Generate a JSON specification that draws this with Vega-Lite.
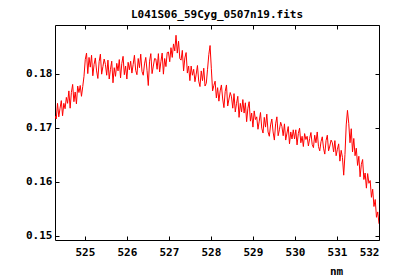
{
 "$schema": "https://vega.github.io/schema/vega-lite/v6.json",
 "width": 324, "height": 215,
 "autosize": "none",
 "padding": {"left": 55, "top": 25, "right": 21, "bottom": 40},
 "background": "white",
 "title": {"text": "L041S06_59Cyg_0507n19.fits", "font": "DejaVu Sans Mono", "fontSize": 11, "fontWeight": "bold", "color": "black", "offset": 5, "anchor": "middle"},
 "config": {
  "view": {"stroke": "black", "strokeWidth": 1},
  "axis": {"domain": false, "grid": false, "tickColor": "black", "tickSize": -4, "labelFont": "DejaVu Sans Mono", "labelFontSize": 11, "labelFontWeight": "bold", "labelColor": "black", "titleFont": "DejaVu Sans Mono", "titleFontSize": 11, "titleFontWeight": "bold", "titleColor": "black"}
 },
 "data": {"values": [
  {"nm":524.29,"f":0.1722},{"nm":524.32,"f":0.1716},{"nm":524.35,"f":0.1745},{"nm":524.38,"f":0.1720},{"nm":524.41,"f":0.1736},{"nm":524.44,"f":0.1750},{"nm":524.47,"f":0.1722},{"nm":524.50,"f":0.1745},{"nm":524.53,"f":0.1735},{"nm":524.56,"f":0.1756},
  {"nm":524.59,"f":0.1745},{"nm":524.62,"f":0.1768},{"nm":524.65,"f":0.1736},{"nm":524.68,"f":0.1765},{"nm":524.71,"f":0.1780},{"nm":524.74,"f":0.1748},{"nm":524.77,"f":0.1766},{"nm":524.80,"f":0.1744},{"nm":524.83,"f":0.1777},{"nm":524.86,"f":0.1765},
  {"nm":524.89,"f":0.1778},{"nm":524.92,"f":0.1758},{"nm":524.95,"f":0.1776},{"nm":524.98,"f":0.1795},{"nm":525.01,"f":0.1826},{"nm":525.04,"f":0.1838},{"nm":525.07,"f":0.1800},{"nm":525.10,"f":0.1830},{"nm":525.13,"f":0.1812},{"nm":525.16,"f":0.1834},
  {"nm":525.19,"f":0.1796},{"nm":525.22,"f":0.1817},{"nm":525.25,"f":0.1829},{"nm":525.28,"f":0.1805},{"nm":525.31,"f":0.1791},{"nm":525.34,"f":0.1822},{"nm":525.37,"f":0.1836},{"nm":525.40,"f":0.1799},{"nm":525.43,"f":0.1813},{"nm":525.46,"f":0.1827},
  {"nm":525.49,"f":0.1817},{"nm":525.52,"f":0.1797},{"nm":525.55,"f":0.1825},{"nm":525.58,"f":0.1790},{"nm":525.61,"f":0.1808},{"nm":525.64,"f":0.1823},{"nm":525.67,"f":0.1783},{"nm":525.70,"f":0.1811},{"nm":525.73,"f":0.1795},{"nm":525.76,"f":0.1819},
  {"nm":525.79,"f":0.1805},{"nm":525.82,"f":0.1826},{"nm":525.85,"f":0.1792},{"nm":525.88,"f":0.1819},{"nm":525.91,"f":0.1832},{"nm":525.94,"f":0.1798},{"nm":525.97,"f":0.1814},{"nm":526.00,"f":0.1790},{"nm":526.03,"f":0.1821},{"nm":526.06,"f":0.1807},
  {"nm":526.09,"f":0.1823},{"nm":526.12,"f":0.1801},{"nm":526.15,"f":0.1817},{"nm":526.18,"f":0.1834},{"nm":526.21,"f":0.1806},{"nm":526.24,"f":0.1798},{"nm":526.27,"f":0.1828},{"nm":526.30,"f":0.1811},{"nm":526.33,"f":0.1836},{"nm":526.36,"f":0.1804},
  {"nm":526.39,"f":0.1797},{"nm":526.42,"f":0.1818},{"nm":526.45,"f":0.1830},{"nm":526.48,"f":0.1806},{"nm":526.51,"f":0.1778},{"nm":526.54,"f":0.1823},{"nm":526.57,"f":0.1837},{"nm":526.60,"f":0.1800},{"nm":526.63,"f":0.1814},{"nm":526.66,"f":0.1828},
  {"nm":526.69,"f":0.1827},{"nm":526.72,"f":0.1808},{"nm":526.75,"f":0.1837},{"nm":526.78,"f":0.1803},{"nm":526.81,"f":0.1822},{"nm":526.84,"f":0.1838},{"nm":526.87,"f":0.1799},{"nm":526.90,"f":0.1828},{"nm":526.93,"f":0.1813},{"nm":526.96,"f":0.1839},
  {"nm":526.99,"f":0.1840},{"nm":527.02,"f":0.1822},{"nm":527.05,"f":0.1848},{"nm":527.08,"f":0.1830},{"nm":527.11,"f":0.1855},{"nm":527.14,"f":0.1842},{"nm":527.17,"f":0.1871},{"nm":527.20,"f":0.1838},{"nm":527.23,"f":0.1860},{"nm":527.26,"f":0.1828},
  {"nm":527.29,"f":0.1825},{"nm":527.32,"f":0.1843},{"nm":527.35,"f":0.1805},{"nm":527.38,"f":0.1829},{"nm":527.41,"f":0.1839},{"nm":527.44,"f":0.1801},{"nm":527.47,"f":0.1814},{"nm":527.50,"f":0.1787},{"nm":527.53,"f":0.1814},{"nm":527.56,"f":0.1797},
  {"nm":527.59,"f":0.1808},{"nm":527.62,"f":0.1785},{"nm":527.65,"f":0.1799},{"nm":527.68,"f":0.1815},{"nm":527.71,"f":0.1786},{"nm":527.74,"f":0.1776},{"nm":527.77,"f":0.1805},{"nm":527.80,"f":0.1787},{"nm":527.83,"f":0.1810},{"nm":527.86,"f":0.1777},
  {"nm":527.89,"f":0.1782},{"nm":527.92,"f":0.1808},{"nm":527.95,"f":0.1835},{"nm":527.98,"f":0.1852},{"nm":528.01,"f":0.1810},{"nm":528.04,"f":0.1768},{"nm":528.07,"f":0.1778},{"nm":528.10,"f":0.1786},{"nm":528.13,"f":0.1755},{"nm":528.16,"f":0.1774},
  {"nm":528.19,"f":0.1749},{"nm":528.22,"f":0.1768},{"nm":528.25,"f":0.1779},{"nm":528.28,"f":0.1753},{"nm":528.31,"f":0.1737},{"nm":528.34,"f":0.1767},{"nm":528.37,"f":0.1779},{"nm":528.40,"f":0.1740},{"nm":528.43,"f":0.1753},{"nm":528.46,"f":0.1765},
  {"nm":528.49,"f":0.1757},{"nm":528.52,"f":0.1736},{"nm":528.55,"f":0.1763},{"nm":528.58,"f":0.1729},{"nm":528.61,"f":0.1745},{"nm":528.64,"f":0.1758},{"nm":528.67,"f":0.1719},{"nm":528.70,"f":0.1745},{"nm":528.73,"f":0.1729},{"nm":528.76,"f":0.1752},
  {"nm":528.79,"f":0.1727},{"nm":528.82,"f":0.1746},{"nm":528.85,"f":0.1711},{"nm":528.88,"f":0.1736},{"nm":528.91,"f":0.1748},{"nm":528.94,"f":0.1712},{"nm":528.97,"f":0.1727},{"nm":529.00,"f":0.1701},{"nm":529.03,"f":0.1731},{"nm":529.06,"f":0.1715},
  {"nm":529.09,"f":0.1720},{"nm":529.12,"f":0.1697},{"nm":529.15,"f":0.1712},{"nm":529.18,"f":0.1728},{"nm":529.21,"f":0.1699},{"nm":529.24,"f":0.1690},{"nm":529.27,"f":0.1719},{"nm":529.30,"f":0.1701},{"nm":529.33,"f":0.1725},{"nm":529.36,"f":0.1692},
  {"nm":529.39,"f":0.1684},{"nm":529.42,"f":0.1705},{"nm":529.45,"f":0.1716},{"nm":529.48,"f":0.1692},{"nm":529.51,"f":0.1677},{"nm":529.54,"f":0.1707},{"nm":529.57,"f":0.1720},{"nm":529.60,"f":0.1685},{"nm":529.63,"f":0.1696},{"nm":529.66,"f":0.1710},
  {"nm":529.69,"f":0.1702},{"nm":529.72,"f":0.1685},{"nm":529.75,"f":0.1707},{"nm":529.78,"f":0.1677},{"nm":529.81,"f":0.1690},{"nm":529.84,"f":0.1702},{"nm":529.87,"f":0.1670},{"nm":529.90,"f":0.1692},{"nm":529.93,"f":0.1679},{"nm":529.96,"f":0.1696},
  {"nm":529.99,"f":0.1679},{"nm":530.02,"f":0.1696},{"nm":530.05,"f":0.1668},{"nm":530.08,"f":0.1689},{"nm":530.11,"f":0.1699},{"nm":530.14,"f":0.1672},{"nm":530.17,"f":0.1684},{"nm":530.20,"f":0.1665},{"nm":530.23,"f":0.1689},{"nm":530.26,"f":0.1678},
  {"nm":530.29,"f":0.1684},{"nm":530.32,"f":0.1666},{"nm":530.35,"f":0.1680},{"nm":530.38,"f":0.1691},{"nm":530.41,"f":0.1669},{"nm":530.44,"f":0.1663},{"nm":530.47,"f":0.1686},{"nm":530.50,"f":0.1672},{"nm":530.53,"f":0.1692},{"nm":530.56,"f":0.1665},
  {"nm":530.59,"f":0.1657},{"nm":530.62,"f":0.1674},{"nm":530.65,"f":0.1683},{"nm":530.68,"f":0.1662},{"nm":530.71,"f":0.1651},{"nm":530.74,"f":0.1676},{"nm":530.77,"f":0.1686},{"nm":530.80,"f":0.1657},{"nm":530.83,"f":0.1666},{"nm":530.86,"f":0.1677},
  {"nm":530.89,"f":0.1672},{"nm":530.92,"f":0.1655},{"nm":530.95,"f":0.1676},{"nm":530.98,"f":0.1648},{"nm":531.01,"f":0.1660},{"nm":531.04,"f":0.1670},{"nm":531.07,"f":0.1638},{"nm":531.10,"f":0.1658},{"nm":531.13,"f":0.1645},{"nm":531.16,"f":0.1612},
  {"nm":531.19,"f":0.1650},{"nm":531.22,"f":0.1705},{"nm":531.25,"f":0.1732},{"nm":531.28,"f":0.1708},{"nm":531.31,"f":0.1672},{"nm":531.34,"f":0.1698},{"nm":531.37,"f":0.1655},{"nm":531.40,"f":0.1680},{"nm":531.43,"f":0.1648},{"nm":531.46,"f":0.1662},
  {"nm":531.49,"f":0.1630},{"nm":531.52,"f":0.1647},{"nm":531.55,"f":0.1609},{"nm":531.58,"f":0.1632},{"nm":531.61,"f":0.1641},{"nm":531.64,"f":0.1604},{"nm":531.67,"f":0.1616},{"nm":531.70,"f":0.1588},{"nm":531.73,"f":0.1615},{"nm":531.76,"f":0.1597},
  {"nm":531.79,"f":0.1602},{"nm":531.82,"f":0.1571},{"nm":531.85,"f":0.1586},{"nm":531.88,"f":0.1554},{"nm":531.91,"f":0.1567},{"nm":531.94,"f":0.1534},{"nm":531.97,"f":0.1544},{"nm":532.00,"f":0.1522}
 ]},
 "layer": [
  {
   "mark": {"type": "line", "color": "#ff0000", "strokeWidth": 1, "clip": true},
   "encoding": {
    "x": {"field": "nm", "type": "quantitative", "scale": {"domain": [524.29, 532], "nice": false, "zero": false},
          "axis": {"orient": "bottom", "values": [525,526,527,528,529,530,531,532], "format": "d", "labelPadding": 10, "title": "nm", "titleX": 281, "titleY": 31, "titleBaseline": "middle", "titleAnchor": null}},
    "y": {"field": "f", "type": "quantitative", "scale": {"domain": [0.1492, 0.1890], "nice": false, "zero": false},
          "axis": {"orient": "left", "values": [0.15,0.16,0.17,0.18], "format": ".2f", "labelPadding": 7, "title": null}}
   }
  },
  {
   "mark": {"type": "line", "opacity": 0},
   "encoding": {
    "x": {"field": "nm", "type": "quantitative", "scale": {"domain": [524.29, 532], "nice": false, "zero": false},
          "axis": {"orient": "top", "values": [525,526,527,528,529,530,531,532], "labels": false, "title": null}},
    "y": {"field": "f", "type": "quantitative", "scale": {"domain": [0.1492, 0.1890], "nice": false, "zero": false},
          "axis": {"orient": "right", "values": [0.15,0.16,0.17,0.18], "labels": false, "title": null}}
   }
  }
 ],
 "resolve": {"axis": {"x": "independent", "y": "independent"}}
}
